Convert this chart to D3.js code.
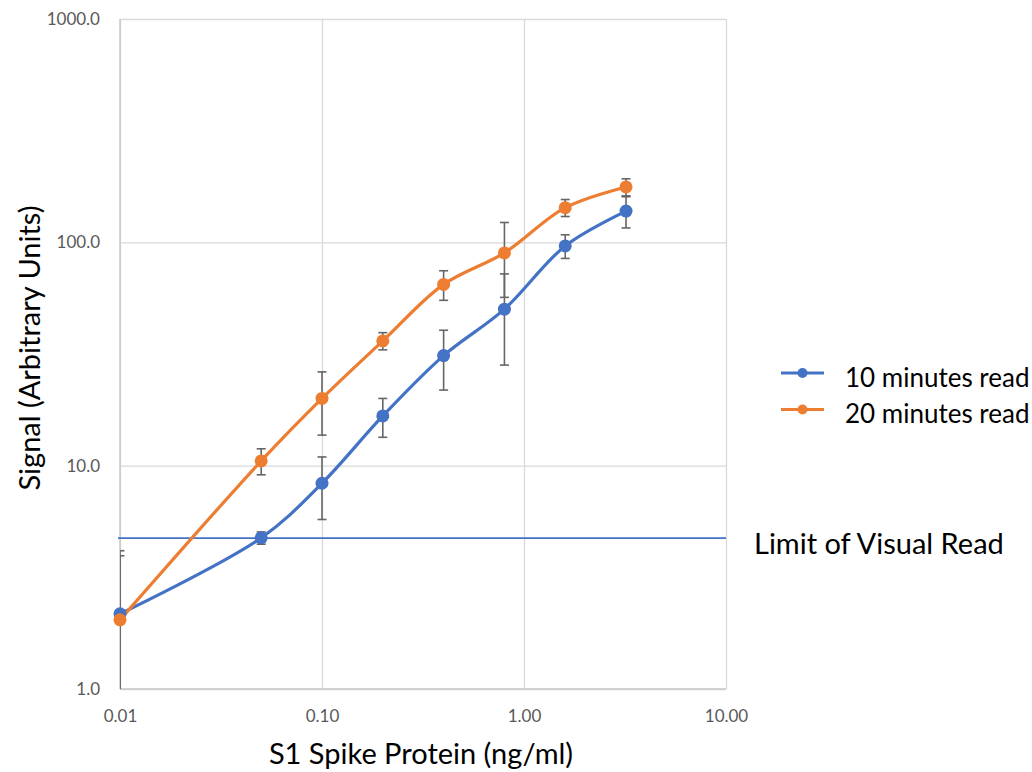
<!DOCTYPE html>
<html><head><meta charset="utf-8">
<script src="https://cdn.jsdelivr.net/npm/d3@7/dist/d3.min.js"></script>
<style>body{margin:0;background:#fff}svg{display:block}text{font-family:Lato,"Open Sans",sans-serif}</style>
</head><body><svg id="c" width="1032" height="772"></svg>
<script>
const concentrations = [0.01, 0.05, 0.1, 0.2, 0.4, 0.8, 1.6, 3.2];
const read10 = [2.17, 4.75, 8.34, 16.7, 31.1, 50.2, 96.4, 138];
const read10Err = [1.99, 0.3, 2.6, 3.3, 9.3, 22, 11.7, 22];
const read20 = [2.04, 10.5, 20.0, 36.2, 64.8, 89.7, 143, 177];
const read20Err = [1.91, 1.4, 6.3, 3.2, 9.8, 33, 12.5, 15.5];
const limitOfVisualRead = 4.74;
const seriesNames = ["10 minutes read", "20 minutes read"];
const xTicks = [0.01, 0.1, 1, 10];
const yTicks = [1, 10, 100, 1000];

const svg = d3.select("#c");
const L = 120, R = 726, T = 19, B = 689;
const x = d3.scaleLog().domain([0.01, 10]).range([L, R]);
const y = d3.scaleLog().domain([1, 1000]).range([B, T]);
const colors = ["#4472C4", "#ED7D31"];

svg.append("defs").append("clipPath").attr("id", "plot")
  .append("rect").attr("x", L).attr("y", T).attr("width", R - L).attr("height", B - T);

// gridlines
const xg = svg.append("g").attr("transform", `translate(0,${B})`)
  .call(d3.axisBottom(x).tickValues(xTicks).tickSize(-(B - T)).tickFormat(d3.format(".2f")));
xg.select(".domain").remove();
xg.selectAll("line").attr("stroke", "#d9d9d9").attr("stroke-width", 1.3);
xg.selectAll("text").attr("fill", "#595959").attr("font-size", 17).attr("dy", 0).attr("y", 33);

const yg = svg.append("g").attr("transform", `translate(${L},0)`)
  .call(d3.axisLeft(y).tickValues(yTicks).tickSize(-(R - L)).tickFormat(d3.format(".1f")));
yg.select(".domain").remove();
yg.selectAll("line").attr("stroke", "#d9d9d9").attr("stroke-width", 1.3);
yg.selectAll("text").attr("fill", "#595959").attr("font-size", 17).attr("x", -20);

// frame left/bottom
svg.append("line").attr("x1", L).attr("x2", L).attr("y1", T).attr("y2", B).attr("stroke", "#c8c8c8").attr("stroke-width", 1.5);
svg.append("line").attr("x1", L).attr("x2", R).attr("y1", B).attr("y2", B).attr("stroke", "#c8c8c8").attr("stroke-width", 1.5);

// limit line
svg.append("line").attr("x1", L - 2).attr("x2", R).attr("y1", y(limitOfVisualRead)).attr("y2", y(limitOfVisualRead))
  .attr("stroke", "#4472C4").attr("stroke-width", 1.6);

const series = [
  {vals: read10, err: read10Err, color: colors[0]},
  {vals: read20, err: read20Err, color: colors[1]}
];
const line = d3.line().x(d => x(d[0])).y(d => y(d[1])).curve(d3.curveCatmullRom.alpha(0.5));

series.forEach(s => {
  const pts = concentrations.map((c, i) => [c, s.vals[i]]);
  svg.append("path").attr("d", line(pts)).attr("fill", "none").attr("stroke", s.color).attr("stroke-width", 3.2);
});

// error bars
series.forEach(s => {
  const g = svg.append("g").attr("clip-path", "url(#plot)").attr("stroke", "#666").attr("stroke-width", 1.6);
  concentrations.forEach((c, i) => {
    const hi = s.vals[i] + s.err[i], lo = s.vals[i] - s.err[i];
    const yh = y(hi), yl = lo > 0 ? y(lo) : B + 50;
    const cx = x(c);
    g.append("line").attr("x1", cx).attr("x2", cx).attr("y1", yh).attr("y2", yl);
    g.append("line").attr("x1", cx - 4.5).attr("x2", cx + 4.5).attr("y1", yh).attr("y2", yh);
    g.append("line").attr("x1", cx - 4.5).attr("x2", cx + 4.5).attr("y1", yl).attr("y2", yl);
  });
});

// markers
series.forEach(s => {
  svg.append("g").selectAll("circle").data(concentrations.map((c, i) => [c, s.vals[i]])).join("circle")
    .attr("cx", d => x(d[0])).attr("cy", d => y(d[1])).attr("r", 6.5).attr("fill", s.color);
});

// legend
seriesNames.forEach((n, i) => {
  const ly = 373 + i * 36.5;
  svg.append("line").attr("x1", 781).attr("x2", 824).attr("y1", ly).attr("y2", ly).attr("stroke", colors[i]).attr("stroke-width", 3);
  svg.append("circle").attr("cx", 802.5).attr("cy", ly).attr("r", 5).attr("fill", colors[i]);
  svg.append("text").attr("x", 845).attr("y", ly + 13.5).attr("font-size", 26).attr("fill", "#000").text(n);
});

svg.append("text").attr("x", 754).attr("y", 554).attr("font-size", 29).attr("fill", "#000").text("Limit of Visual Read");

// axis titles
svg.append("text").attr("x", 421).attr("y", 764).attr("text-anchor", "middle").attr("font-size", 29).attr("fill", "#000")
  .text("S1 Spike Protein (ng/ml)");
svg.append("text").attr("transform", "translate(40,348) rotate(-90)").attr("text-anchor", "middle").attr("font-size", 29).attr("fill", "#000")
  .text("Signal (Arbitrary Units)");
</script></body></html>
